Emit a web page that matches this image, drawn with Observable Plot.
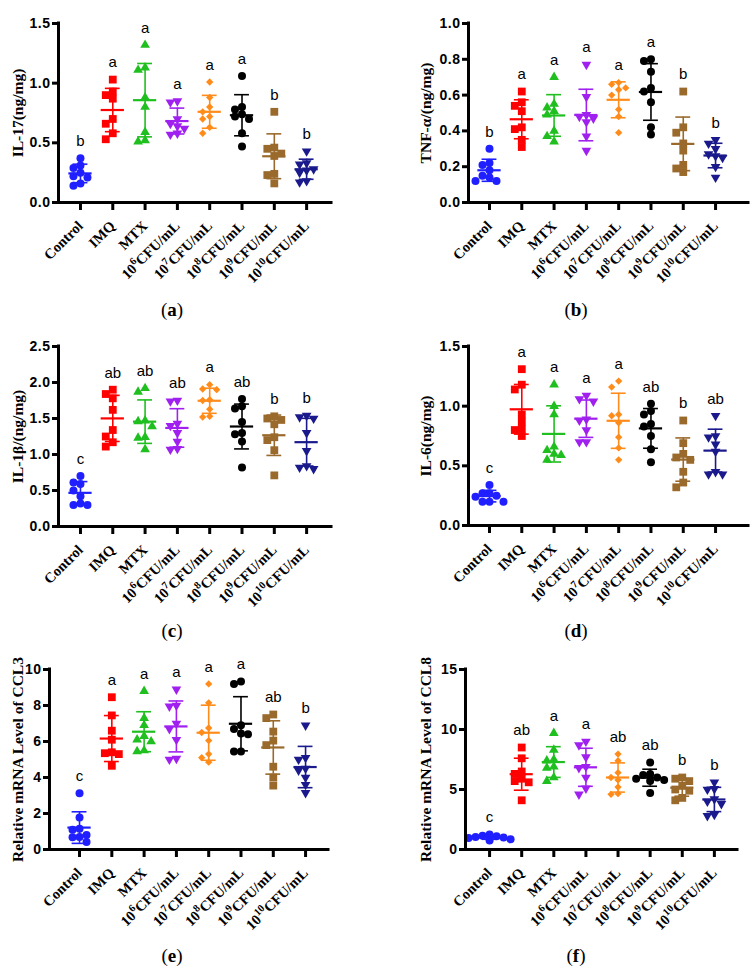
<!DOCTYPE html>
<html><head><meta charset="utf-8">
<script src="https://cdn.jsdelivr.net/npm/d3@7"></script>
<script src="https://cdn.jsdelivr.net/npm/@observablehq/plot@0.6"></script>
<style>
body{margin:0;background:#fff;}
#wrap{position:relative;width:753px;height:973px;overflow:hidden;background:#fff;}
.panel{position:absolute;}
.cap{position:absolute;font-family:"Liberation Serif",serif;font-size:19px;transform:translate(-50%,-50%);white-space:nowrap;color:#000;}
.cap b{font-weight:bold;}
g[aria-label="x-axis tick label"] text{font-family:"Liberation Serif",serif;font-weight:bold;font-size:14.5px;}
g[aria-label="y-axis tick label"] text{font-family:"Liberation Sans",Arial,sans-serif;font-weight:bold;font-size:14px;letter-spacing:0.5px;}
</style></head><body><div id="wrap"></div>
<script>
const groups = ["Control","IMQ","MTX","10^6CFU/mL","10^7CFU/mL","10^8CFU/mL","10^9CFU/mL","10^10CFU/mL"];

const il17 = [
 [0.37,0.31,0.29,0.25,0.22,0.21,0.16,0.14],
 [1.03,0.93,0.90,0.87,0.70,0.66,0.58,0.53],
 [1.32,1.13,1.11,0.88,0.80,0.59,0.52,0.51],
 [0.85,0.84,0.70,0.66,0.64,0.62,0.58,0.57],
 [1.01,0.88,0.80,0.76,0.72,0.70,0.63,0.58],
 [1.06,0.80,0.78,0.74,0.72,0.70,0.58,0.47],
 [0.76,0.46,0.45,0.41,0.39,0.24,0.23,0.16],
 [0.43,0.33,0.32,0.28,0.27,0.25,0.18,0.17]
];
const tnf = [
 [0.30,0.22,0.21,0.18,0.15,0.14,0.12,0.12],
 [0.62,0.56,0.54,0.51,0.42,0.41,0.35,0.31],
 [0.70,0.55,0.53,0.51,0.49,0.40,0.37,0.34],
 [0.77,0.59,0.49,0.48,0.47,0.45,0.37,0.29],
 [0.67,0.66,0.64,0.63,0.60,0.52,0.48,0.39],
 [0.80,0.79,0.73,0.64,0.62,0.56,0.42,0.38],
 [0.62,0.42,0.39,0.33,0.29,0.21,0.19,0.17],
 [0.35,0.33,0.30,0.27,0.26,0.25,0.20,0.14]
];
const il1b = [
 [0.70,0.61,0.59,0.50,0.42,0.32,0.30,0.30],
 [1.90,1.84,1.78,1.62,1.34,1.25,1.17,1.11],
 [1.92,1.87,1.47,1.46,1.39,1.24,1.23,1.07],
 [1.75,1.74,1.43,1.40,1.30,1.18,1.08,1.07],
 [1.97,1.91,1.90,1.76,1.75,1.63,1.53,1.52],
 [1.77,1.67,1.64,1.45,1.30,1.28,1.18,0.82],
 [1.53,1.50,1.48,1.42,1.24,1.20,1.06,0.71],
 [1.54,1.52,1.50,1.30,1.05,0.84,0.82,0.80]
];
const il6 = [
 [0.34,0.27,0.27,0.25,0.24,0.20,0.20,0.20],
 [1.31,1.18,1.14,0.93,0.87,0.81,0.80,0.75],
 [1.18,1.00,0.93,0.66,0.63,0.60,0.59,0.55],
 [1.09,1.06,1.04,0.89,0.88,0.80,0.70,0.70],
 [1.21,1.16,0.93,0.92,0.86,0.74,0.65,0.55],
 [1.02,0.96,0.93,0.85,0.83,0.75,0.64,0.53],
 [0.88,0.69,0.60,0.57,0.55,0.45,0.36,0.32],
 [0.92,0.75,0.74,0.68,0.62,0.45,0.43,0.43]
];
const ccl3 = [
 [3.13,1.78,1.15,1.10,0.80,0.69,0.68,0.41],
 [8.46,7.45,6.60,6.10,5.40,5.35,5.30,4.65],
 [8.80,7.30,6.90,6.30,6.10,6.00,5.50,5.45],
 [8.90,8.00,7.95,7.00,6.70,6.10,5.05,5.00],
 [9.20,8.15,6.75,6.50,6.05,5.30,5.10,4.85],
 [9.33,9.20,6.90,6.70,6.45,6.40,5.45,5.45],
 [7.50,7.30,6.55,6.05,5.80,4.60,4.00,3.55],
 [6.90,5.10,5.00,4.50,4.40,4.00,3.60,3.15]
];
const ccl8 = [
 [1.25,1.15,1.10,1.05,1.00,0.95,0.85,0.75],
 [8.50,7.60,6.50,6.30,5.90,5.70,5.60,4.10],
 [9.70,8.30,7.50,7.40,6.90,6.80,6.00,5.70],
 [9.00,8.70,7.70,6.90,6.80,6.00,5.10,4.60],
 [7.95,7.40,6.40,6.00,5.80,5.20,4.65,4.60],
 [7.25,6.30,6.20,6.00,5.90,5.80,5.70,4.70],
 [6.00,5.90,5.70,5.30,5.00,4.90,4.30,4.10],
 [5.60,5.05,5.00,4.20,4.00,3.80,2.90,2.80]
];

const il17Letters = ["b","a","a","a","a","a","b","b"];
const tnfLetters  = ["b","a","a","a","a","a","b","b"];
const il1bLetters = ["c","ab","ab","ab","a","ab","b","b"];
const il6Letters  = ["c","a","a","a","a","ab","b","ab"];
const ccl3Letters = ["c","a","a","a","a","a","ab","b"];
const ccl8Letters = ["c","ab","a","a","ab","ab","b","b"];

const ticksA = [0,0.5,1.0,1.5];
const ticksB = [0,0.2,0.4,0.6,0.8,1.0];
const ticksC = [0,0.5,1.0,1.5,2.0,2.5];
const ticksD = [0,0.5,1.0,1.5];
const ticksE = [0,2,4,6,8,10];
const ticksF = [0,5,10,15];

// styles
const colors = ["#1f1fff","#ff0000","#1fbf1f","#a020f0","#ff8c1a","#000000","#9a6a2c","#1a1a8c"];
const triDown = {draw(ctx, size){ const y = Math.sqrt(size/(Math.sqrt(3)*3)); ctx.moveTo(0, 2*y); ctx.lineTo(-Math.sqrt(3)*y, -y); ctx.lineTo(Math.sqrt(3)*y, -y); ctx.closePath(); }};
const symbols = ["circle","square","triangle",triDown,"diamond2","circle","square",triDown];
const radii = [4,4.4,3.6,3.6,3.3,4,4.4,3.6];

const panels = [
 {values: il17, letters: il17Letters, label: "IL-17(ng/mg)", yMax: 1.5, ticks: ticksA, fmt: d3.format(".1f"), left: 0, top: 0, W: 376, mL: 58, mT: 23, plotH: 179, plotW: 273, xDom: [-0.68, 7.77], labelX: 18, cap: "a", capX: 172, capY: 310},
 {values: tnf, letters: tnfLetters, label: "TNF-α/(ng/mg)", yMax: 1.0, ticks: ticksB, fmt: d3.format(".1f"), left: 376, top: 0, W: 377, mL: 92, mT: 23, plotH: 179, plotW: 280, xDom: [-0.65, 8.02], labelX: 50, cap: "b", capX: 576, capY: 310},
 {values: il1b, letters: il1bLetters, label: "IL-1β/(ng/mg)", yMax: 2.5, ticks: ticksC, fmt: d3.format(".1f"), left: 0, top: 320, W: 376, mL: 58, mT: 26, plotH: 180, plotW: 273, xDom: [-0.68, 7.77], labelX: 18, cap: "c", capX: 172, capY: 631},
 {values: il6, letters: il6Letters, label: "IL-6(ng/mg)", yMax: 1.5, ticks: ticksD, fmt: d3.format(".1f"), left: 376, top: 320, W: 377, mL: 92, mT: 26, plotH: 179, plotW: 280, xDom: [-0.65, 8.02], labelX: 50, cap: "d", capX: 576, capY: 631},
 {values: ccl3, letters: ccl3Letters, label: "Relative mRNA Level of CCL3", yMax: 10, ticks: ticksE, fmt: d3.format("d"), left: 0, top: 640, W: 376, mL: 49, mT: 29, plotH: 180, plotW: 279, xDom: [-0.93, 7.71], labelX: 18, cap: "e", capX: 172, capY: 956},
 {values: ccl8, letters: ccl8Letters, label: "Relative mRNA Level of CCL8", yMax: 15, ticks: ticksF, fmt: d3.format("d"), left: 376, top: 640, W: 377, mL: 89, mT: 29, plotH: 180, plotW: 272, xDom: [-0.75, 7.72], labelX: 50, cap: "f", capX: 576, capY: 956}
];

function dodge(vals, toPx, d) {
  const order = d3.range(vals.length).sort((a, b) => vals[b] - vals[a]);
  const placed = [], off = new Array(vals.length).fill(0);
  for (const k of order) {
    const py = toPx(vals[k]);
    for (const c of [0, -1, 1, -2, 2, -3, 3]) {
      const ox = c * d;
      if (placed.every(p => Math.abs(p.y - py) >= 6.5 || Math.abs(p.x - ox) >= 6.5)) { off[k] = ox; placed.push({x: ox, y: py}); break; }
    }
  }
  return off;
}

function supers(svg) {
  const ns = "http://www.w3.org/2000/svg";
  svg.querySelectorAll('g[aria-label="x-axis tick label"] text').forEach(t => {
    const m = /^10\^(\d+)(.*)$/.exec(t.textContent);
    if (!m) return;
    t.textContent = "";
    const a = document.createElementNS(ns, "tspan"); a.textContent = "10";
    const b = document.createElementNS(ns, "tspan"); b.textContent = m[1]; b.setAttribute("dy", "-6"); b.setAttribute("font-size", "10.5");
    const c = document.createElementNS(ns, "tspan"); c.textContent = m[2]; c.setAttribute("dy", "6");
    t.append(a, b, c);
  });
}

const wrap = document.getElementById("wrap");
const H = 300;
for (const p of panels) {
  const mB = H - p.mT - p.plotH, mR = p.W - p.mL - p.plotW;
  const step = p.plotW / (p.xDom[1] - p.xDom[0]);
  const marks = [];
  p.values.forEach((vals, i) => {
    const off = dodge(vals, v => p.plotH * (1 - v / p.yMax), 7);
    const pts = vals.map((v, k) => ({x: i + off[k] / step, y: v}));
    const m = d3.mean(vals), s = d3.deviation(vals);
    const st = {x: i, mean: m, lo: m - s, hi: m + s, max: d3.max(vals), letter: p.letters[i]};
    const c = colors[i];
    marks.push(Plot.dot(pts, {x: "x", y: "y", symbol: symbols[i], r: radii[i], fill: c, stroke: "none"}));
    marks.push(Plot.ruleX([st], {x: "x", y1: "lo", y2: "hi", stroke: c, strokeWidth: 1.6}));
    marks.push(Plot.ruleY([st], {y: "mean", x1: d => d.x - 0.36, x2: d => d.x + 0.36, stroke: c, strokeWidth: 2.2}));
    marks.push(Plot.ruleY([st.lo, st.hi], {y: d => d, x1: i - 0.23, x2: i + 0.23, stroke: c, strokeWidth: 1.6}));
    marks.push(Plot.text([st], {x: "x", y: "max", dy: -17, text: "letter", fill: "#000", fontSize: 15, fontFamily: "Liberation Sans, Arial, sans-serif", lineAnchor: "middle"}));
  });
  marks.push(Plot.ruleY([0], {stroke: "#000", strokeWidth: 3, strokeLinecap: "square"}));
  marks.push(Plot.ruleX([p.xDom[0]], {stroke: "#000", strokeWidth: 3, strokeLinecap: "square"}));
  marks.push(Plot.axisX({ticks: d3.range(groups.length), tickFormat: i => groups[i], tickRotate: -45, tickSize: 8, tickPadding: 13, strokeWidth: 3, label: null, fontSize: 14.5, fontWeight: "bold", fontFamily: "Liberation Serif, serif", fill: "#000"}));
  marks.push(Plot.axisY({ticks: p.ticks, tickFormat: p.fmt, tickSize: 6, tickPadding: 2, strokeWidth: 3, label: null, fontSize: 14, fontWeight: "bold", fill: "#000"}));
  marks.push(Plot.text([p.label], {frameAnchor: "left", dx: p.labelX - p.mL, rotate: -90, text: d => d, fontFamily: "Liberation Serif, serif", fontWeight: "bold", fontSize: 15.5, fill: "#000", textAnchor: "middle", lineAnchor: "middle"}));
  const svg = Plot.plot({
    width: p.W, height: H,
    marginLeft: p.mL, marginRight: mR, marginTop: p.mT, marginBottom: mB,
    x: {type: "linear", domain: p.xDom},
    y: {type: "linear", domain: [0, p.yMax]},
    style: {background: "transparent", overflow: "visible"},
    marks
  });
  supers(svg);
  const div = document.createElement("div");
  div.className = "panel";
  div.style.left = p.left + "px"; div.style.top = p.top + "px";
  div.appendChild(svg);
  wrap.appendChild(div);
  const cap = document.createElement("div");
  cap.className = "cap";
  cap.style.left = p.capX + "px"; cap.style.top = p.capY + "px";
  cap.innerHTML = "(<b>" + p.cap + "</b>)";
  wrap.appendChild(cap);
}
</script></body></html>
